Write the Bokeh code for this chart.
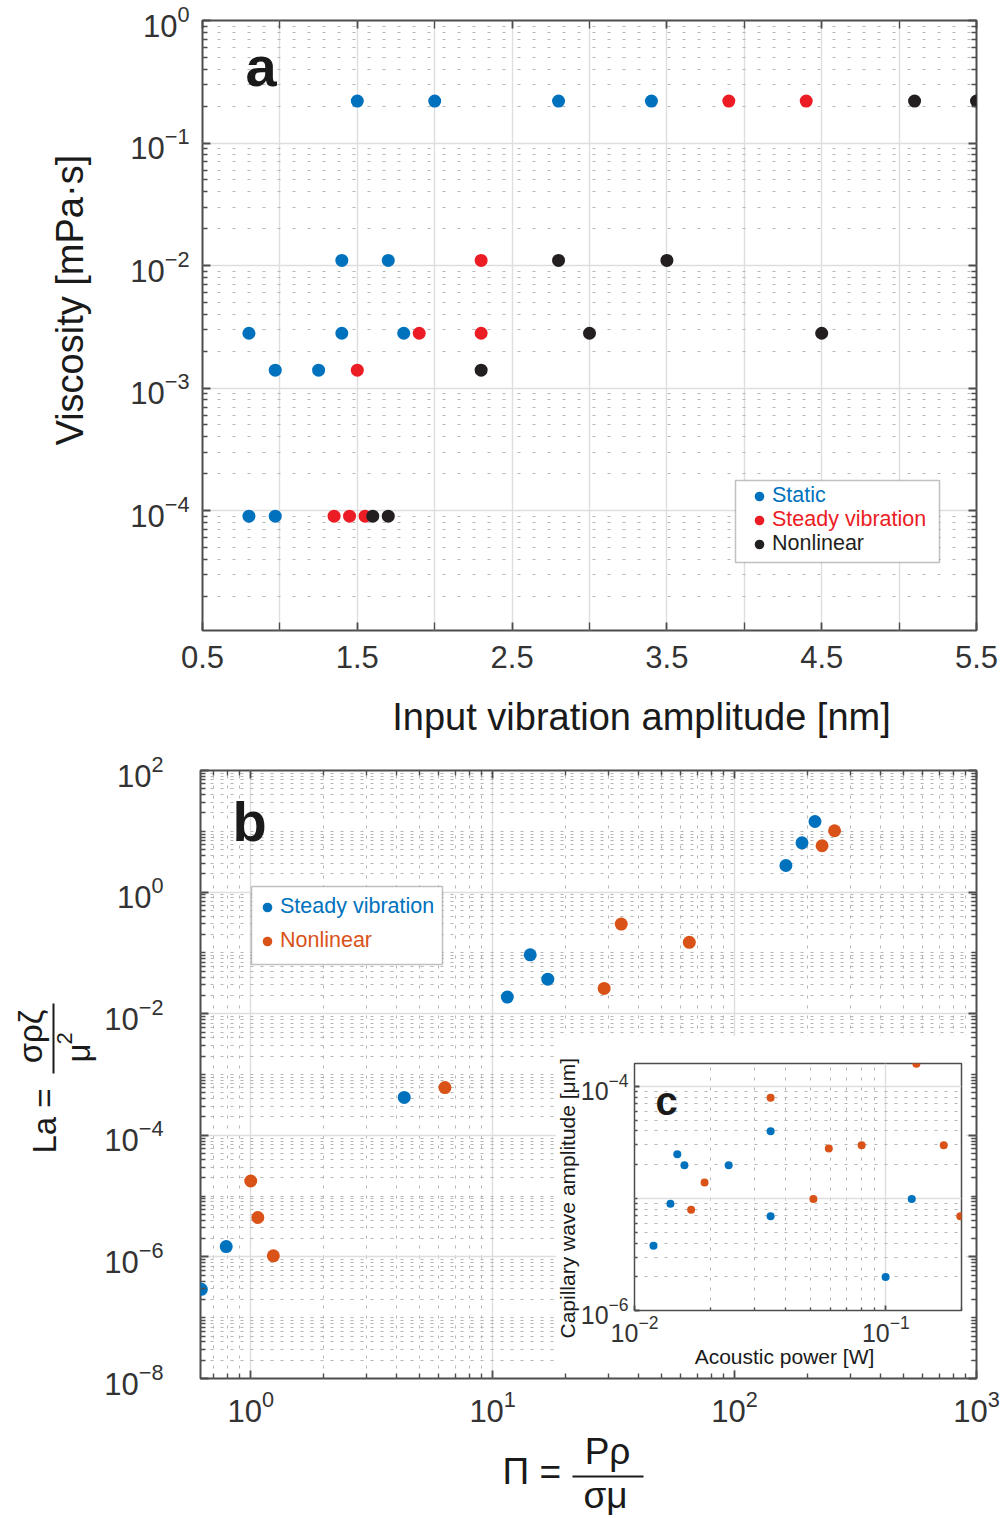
import math
from bokeh.plotting import figure
from bokeh.models import (Range1d, FixedTicker, LinearAxis, LogAxis, Label, BoxAnnotation,
                          Legend, LegendItem, CustomJSTickFormatter)
from bokeh.layouts import column
from bokeh.embed import file_html
from bokeh.resources import INLINE

FONT = "Liberation Sans"
BLUE = "#0072BD"
RED = "#EC1C24"
BLACK = "#231F20"
ORANGE = "#D95319"
AXC = "#4D4D4D"
TICKC = "#333333"
TITLEC = "#1A1A1A"
MAJG = "#DEDEDE"
MING = "#B5B5B5"

# ---------------- data: panel a ----------------
static_amp = [1.5, 2.0, 2.8, 3.4, 1.4, 1.7, 0.8, 1.4, 1.8, 0.97, 1.25, 0.8, 0.97]
static_visc = [0.22, 0.22, 0.22, 0.22, 0.011, 0.011, 0.0028, 0.0028, 0.0028, 0.0014, 0.0014, 9e-5, 9e-5]
steady_amp = [3.9, 4.4, 2.3, 1.9, 2.3, 1.5, 1.35, 1.45, 1.55]
steady_visc = [0.22, 0.22, 0.011, 0.0028, 0.0028, 0.0014, 9e-5, 9e-5, 9e-5]
nonlin_amp = [5.1, 5.5, 2.8, 3.5, 3.0, 4.5, 2.3, 1.6, 1.7]
nonlin_visc = [0.22, 0.22, 0.011, 0.011, 0.0028, 0.0028, 0.0014, 9e-5, 9e-5]

# ---------------- data: panel b ----------------
b_steady_pi = [0.625, 0.792, 4.31, 11.5, 14.3, 16.9, 163, 190, 215]
b_steady_la = [2.93e-7, 1.48e-6, 4.2e-4, 0.0188, 0.093, 0.037, 2.74, 6.47, 14.5]
b_nonlin_pi = [1.0, 1.07, 1.24, 6.35, 28.9, 34.0, 65.0, 230, 259]
b_nonlin_la = [1.77e-5, 4.45e-6, 1.04e-6, 6.1e-4, 0.026, 0.298, 0.149, 5.78, 10.2]

# ---------------- data: panel c (inset) ----------------
c_steady_power = [0.0119, 0.0139, 0.0148, 0.0158, 0.0237, 0.0348, 0.0348, 0.0998, 0.1268]
c_steady_amp = [3.78e-6, 8.95e-6, 2.48e-5, 1.98e-5, 1.98e-5, 3.97e-5, 6.93e-6, 1.99e-6, 9.9e-6]
c_nonlin_power = [0.0168, 0.0190, 0.0348, 0.0515, 0.0593, 0.0801, 0.1323, 0.170, 0.1978]
c_nonlin_amp = [7.91e-6, 1.39e-5, 7.93e-5, 9.9e-6, 2.79e-5, 2.98e-5, 1.59e-4, 2.98e-5, 6.93e-6]

# ---------------- ticks ----------------
a_xticks_labeled = [0.5, 1.5, 2.5, 3.5, 4.5, 5.5]
a_xticks_unlabeled = [1.0, 2.0, 3.0, 4.0, 5.0]
a_yticks = [1e-4, 1e-3, 1e-2, 1e-1, 1.0]
b_xticks = [1, 10, 100, 1000]
b_yticks = [1e-8, 1e-6, 1e-4, 1e-2, 1, 100]
b_yticks_odd = [1e-7, 1e-5, 1e-3, 1e-1, 10]
c_xticks = [0.01, 0.1]
c_yticks = [1e-6, 1e-4]
c_ygrid = [1e-6, 1e-5, 1e-4]


def log_minors(lo, hi):
    return [m * 10.0 ** k for k in range(lo, hi) for m in range(2, 10)]


def blank():
    return CustomJSTickFormatter(code="return ''")


def no_align(p):
    if "frame_align" in p.properties():
        p.frame_align = False


def style_axis(ax, size, standoff, tin=8, mtin=5):
    ax.axis_line_color = None
    ax.major_tick_line_color = AXC
    ax.major_tick_line_width = 1.8
    ax.minor_tick_line_color = AXC
    ax.minor_tick_line_width = 1.4
    ax.major_tick_in = tin
    ax.major_tick_out = 0
    ax.minor_tick_in = mtin
    ax.minor_tick_out = 0
    ax.major_label_text_font = FONT
    ax.major_label_text_font_size = size
    ax.major_label_text_color = TICKC
    ax.major_label_standoff = standoff


def style_grid(g, minor=True, dash="3 9"):
    g.grid_line_color = MAJG
    g.grid_line_width = 1.4
    if minor:
        g.minor_grid_line_color = MING
        g.minor_grid_line_width = 1
        g.minor_grid_line_dash = dash
    else:
        g.minor_grid_line_color = None


def label(p, text, x, y, size, angle=0.0, align="left", baseline="alphabetic",
          bold=False, color=TITLEC):
    p.add_layout(Label(text=text, x=x, y=y, x_units="canvas", y_units="canvas",
                       angle=angle, text_align=align, text_baseline=baseline,
                       text_font=FONT, text_font_size=size, text_color=color,
                       text_font_style="bold" if bold else "normal"))


def box(p, left, right, top, bottom, fill, line=None, lw=1):
    p.add_layout(BoxAnnotation(left=left, right=right, top=top, bottom=bottom,
                               left_units="canvas", right_units="canvas",
                               top_units="canvas", bottom_units="canvas",
                               fill_color=fill, fill_alpha=1, line_color=line,
                               line_width=lw))


def legend_row(p, text, color, rend, vx, vy, size="21.5px"):
    lg = Legend(items=[LegendItem(label=text, renderers=[rend])], location=(vx, vy),
                padding=0, margin=0, spacing=0, border_line_color=None,
                background_fill_alpha=0, label_text_font=FONT, label_text_font_size=size,
                label_text_color=color, glyph_width=24, glyph_height=24, label_height=24,
                label_standoff=1, label_text_baseline="middle")
    p.add_layout(lg, "center")


# =============== panel a ===============
pa = figure(width=1003, height=740, x_range=Range1d(0.5, 5.5), y_range=Range1d(1.05e-5, 1.0),
            y_axis_type="log", output_backend="svg", toolbar_location=None,
            min_border_left=202, min_border_right=27, min_border_top=20, min_border_bottom=110)
no_align(pa)
pa.outline_line_color = AXC
pa.outline_line_width = 2

xt_a = FixedTicker(ticks=a_xticks_labeled, minor_ticks=a_xticks_unlabeled)
yt_a = FixedTicker(ticks=a_yticks, minor_ticks=log_minors(-5, 0))
style_axis(pa.xaxis[0], "31px", 15, tin=8, mtin=8)
pa.xaxis[0].ticker = xt_a
style_axis(pa.yaxis[0], "31px", 13)
pa.yaxis[0].ticker = yt_a
pa.xgrid[0].ticker = FixedTicker(ticks=sorted(a_xticks_labeled + a_xticks_unlabeled))
style_grid(pa.xgrid[0], minor=False)
pa.ygrid[0].ticker = yt_a
style_grid(pa.ygrid[0], dash="3 12")

top_a = LinearAxis(ticker=xt_a, formatter=blank())
style_axis(top_a, "10px", 0, tin=8, mtin=8)
pa.add_layout(top_a, "above")
right_a = LogAxis(ticker=yt_a, formatter=blank())
style_axis(right_a, "10px", 0)
pa.add_layout(right_a, "right")

r_static = pa.scatter(static_amp, static_visc, size=13, color=BLUE, line_color=None)
r_steady = pa.scatter(steady_amp, steady_visc, size=13, color=RED, line_color=None)
r_nonlin = pa.scatter(nonlin_amp, nonlin_visc, size=13, color=BLACK, line_color=None)

box(pa, 735, 939, 480, 562, "white", "#333333", 1.5)
legend_row(pa, "Static", BLUE, r_static, 545, 122)
legend_row(pa, "Steady vibration", RED, r_steady, 545, 98)
legend_row(pa, "Nonlinear", BLACK, r_nonlin, 545, 74)
label(pa, "a", 245, 66, "56px", bold=True)

# =============== panel b ===============
pb = figure(width=1003, height=778, x_axis_type="log", y_axis_type="log",
            x_range=Range1d(0.62, 1000), y_range=Range1d(1e-8, 100),
            output_backend="svg", toolbar_location=None,
            min_border_left=200, min_border_right=27, min_border_top=30, min_border_bottom=140)
no_align(pb)
pb.outline_line_color = AXC
pb.outline_line_width = 2

xt_b = FixedTicker(ticks=b_xticks, minor_ticks=log_minors(-1, 3))
yt_b = FixedTicker(ticks=b_yticks, minor_ticks=log_minors(-8, 2) + b_yticks_odd)
style_axis(pb.xaxis[0], "31px", 11)
pb.xaxis[0].ticker = xt_b
style_axis(pb.yaxis[0], "31px", 37)
pb.yaxis[0].ticker = yt_b
pb.xgrid[0].ticker = xt_b
pb.ygrid[0].ticker = yt_b
style_grid(pb.xgrid[0], dash="3 7")
style_grid(pb.ygrid[0], dash="3 7")

top_b = LogAxis(ticker=xt_b, formatter=blank())
style_axis(top_b, "10px", 0)
pb.add_layout(top_b, "above")
right_b = LogAxis(ticker=yt_b, formatter=blank())
style_axis(right_b, "10px", 0)
pb.add_layout(right_b, "right")

rb_steady = pb.scatter(b_steady_pi, b_steady_la, size=13, color=BLUE, line_color=None)
rb_nonlin = pb.scatter(b_nonlin_pi, b_nonlin_la, size=13, color=ORANGE, line_color=None)

box(pb, 251, 442, 146, 224, "white", "#333333", 1.5)
legend_row(pb, "Steady vibration", BLUE, rb_steady, 55, 459)
legend_row(pb, "Nonlinear", ORANGE, rb_nonlin, 55, 425)
label(pb, "b", 232, 81, "56px", bold=True)

# =============== panel c (inset) ===============
pc = figure(width=411, height=334, x_axis_type="log", y_axis_type="log",
            x_range=Range1d(0.01, 0.2), y_range=Range1d(1e-6, 1.6e-4),
            output_backend="svg", toolbar_location=None,
            min_border_left=79, min_border_right=5, min_border_top=28, min_border_bottom=59,
            background_fill_color="white", border_fill_color="white")
no_align(pc)
pc.outline_line_color = AXC
pc.outline_line_width = 1.5

xt_c = FixedTicker(ticks=c_xticks, minor_ticks=log_minors(-2, 0))
yt_c = FixedTicker(ticks=c_yticks, minor_ticks=log_minors(-6, -3) + [1e-5])
style_axis(pc.xaxis[0], "25px", 4, tin=5, mtin=3)
pc.xaxis[0].ticker = xt_c
style_axis(pc.yaxis[0], "25px", 6, tin=5, mtin=3)
pc.yaxis[0].ticker = yt_c
pc.xgrid[0].ticker = xt_c
pc.ygrid[0].ticker = FixedTicker(ticks=c_ygrid, minor_ticks=log_minors(-6, -3))
style_grid(pc.xgrid[0], dash="3 7")
style_grid(pc.ygrid[0], dash="3 7")

pc.scatter(c_steady_power, c_steady_amp, size=8, color=BLUE, line_color=None)
pc.scatter(c_nonlin_power, c_nonlin_amp, size=8, color=ORANGE, line_color=None)
label(pc, "c", 100, 65, "40px", bold=True)

pc.margin = (1035 - 1518, 0, 0, 555)

# =============== transparent overlay carrying the axis titles ===============
ov = figure(width=1003, height=1518, x_range=Range1d(0, 1003), y_range=Range1d(0, 1518),
            output_backend="svg", toolbar_location=None, min_border=0,
            x_axis_location=None, y_axis_location=None, outline_line_color=None,
            background_fill_alpha=0, border_fill_alpha=0)
no_align(ov)
ov.grid.visible = False

# panel a titles
label(ov, "Input vibration amplitude [nm]", 641, 716, "38px", align="center")
label(ov, "Viscosity [mPa·s]", 69, 445, "38px", angle=math.pi / 2)
# panel b y title: La = σρζ / μ²
label(ov, "La =", 44, 1153, "33px", angle=math.pi / 2)
box(ov, 52, 54, 1003, 1073, TITLEC)
label(ov, "σρζ", 30, 1036, "33px", angle=math.pi / 2, align="center")
label(ov, "μ", 78, 1062, "33px", angle=math.pi / 2)
label(ov, "2", 64, 1044, "22px", angle=math.pi / 2)
# panel b x title: Π = Pρ / σμ
label(ov, "Π =", 502, 1471, "37px")
box(ov, 572, 643, 1475, 1477, TITLEC)
label(ov, "Pρ", 607, 1451, "37px", align="center")
label(ov, "σμ", 605, 1495, "37px", align="center")
# inset titles
label(ov, "Acoustic power [W]", 784, 1356, "21px", align="center")
label(ov, "Capillary wave amplitude [μm]", 567, 1338, "21px", angle=math.pi / 2)

ov.margin = (-(740 + 778 - 483 + 334), 0, 0, 0)

layout = column(pa, pb, pc, ov)
html = file_html(layout, INLINE, title="Viscosity and capillary wave chart")
open("out.html", "w").write(html)
